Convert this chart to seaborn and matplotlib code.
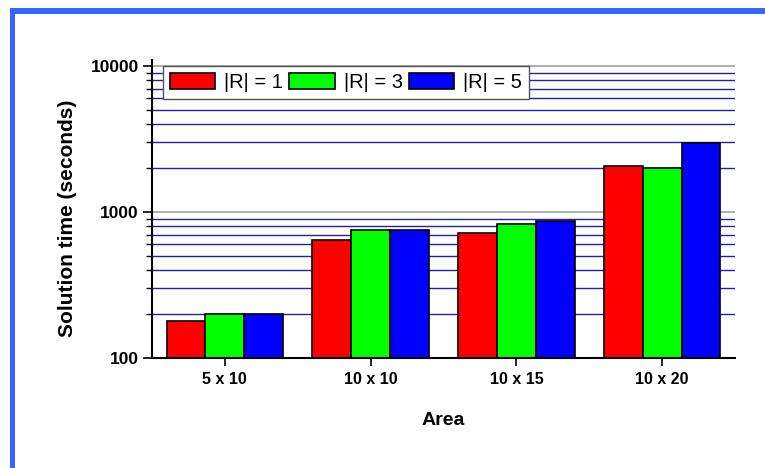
import matplotlib
matplotlib.use("Agg")
import matplotlib.pyplot as plt
from matplotlib.patches import Rectangle
from matplotlib.ticker import FixedLocator, FixedFormatter, LogLocator, NullFormatter
import seaborn as sns
import pandas as pd

# Solution times per area for three values of |R|
areas = ["5 x 10", "10 x 10", "10 x 15", "10 x 20"]
r_labels = ["|R| = 1", "|R| = 3", "|R| = 5"]
time_r1 = [179, 643, 718, 2080]
time_r3 = [200, 752, 823, 2010]
time_r5 = [200, 750, 863, 2980]
bar_colors = ["#ff0000", "#00ff00", "#0000ff"]
y_ticks = [100, 1000, 10000]
y_tick_labels = ["100", "1000", "10000"]

df = pd.DataFrame({
    "Area": areas * 3,
    "R": [r_labels[0]] * 4 + [r_labels[1]] * 4 + [r_labels[2]] * 4,
    "Time": time_r1 + time_r3 + time_r5,
})

sns.set_theme(style="white")
plt.rcParams["font.family"] = ["Liberation Sans", "DejaVu Sans"]
plt.rcParams.update({"text.color": "black", "axes.labelcolor": "black",
                     "xtick.color": "black", "ytick.color": "black"})

fig = plt.figure(figsize=(7.65, 4.68), dpi=100)
ax = fig.add_axes([152 / 765, 110 / 468, 583 / 765, 298 / 468])

sns.barplot(data=df, x="Area", y="Time", hue="R", order=areas, hue_order=r_labels,
            palette=bar_colors, saturation=1, width=0.8, gap=0,
            edgecolor="black", linewidth=1.2, errorbar=None, ax=ax)

ax.set_yscale("log")
ax.set_ylim(100, 11000)
ax.set_xlim(-0.5, 3.5)

ax.yaxis.set_major_locator(FixedLocator(y_ticks))
ax.yaxis.set_major_formatter(FixedFormatter(y_tick_labels))
ax.yaxis.set_minor_locator(LogLocator(base=10, subs=range(2, 10)))
ax.yaxis.set_minor_formatter(NullFormatter())

ax.set_axisbelow(True)
ax.grid(True, which="major", axis="y", color="#9a9a9a", linewidth=1.1)
ax.grid(True, which="minor", axis="y", color="#2020a8", linewidth=1.0)
ax.grid(False, axis="x")

for side in ["top", "right"]:
    ax.spines[side].set_visible(False)
for side in ["left", "bottom"]:
    ax.spines[side].set_color("black")
    ax.spines[side].set_linewidth(1.5)

ax.tick_params(axis="y", which="major", left=True, direction="out", length=6.5,
               width=1.2, pad=3, labelsize=12.5, color="black", labelcolor="black")
ax.tick_params(axis="y", which="minor", left=True, direction="out", length=4,
               width=1.0, color="black")
ax.tick_params(axis="x", bottom=True, direction="out", length=6, width=1.2,
               pad=4, labelsize=11.5, color="black", labelcolor="black")
for lbl in ax.get_xticklabels() + ax.get_yticklabels():
    lbl.set_fontweight("bold")

ax.set_xlabel("Area", fontsize=14, fontweight="bold", labelpad=18, color="black")
ax.set_ylabel("Solution time (seconds)", fontsize=15, fontweight="bold", color="black")
ax.yaxis.set_label_coords(-0.129, 0.468)

handles, labels = ax.get_legend_handles_labels()
leg = ax.legend(handles, labels, ncol=3, loc="upper left",
                bbox_to_anchor=(11 / 583, 292 / 298), borderaxespad=0,
                fontsize=14.5, frameon=True, fancybox=False, framealpha=1,
                edgecolor="#555555", handlelength=2.25, handleheight=0.85,
                handletextpad=0.45, columnspacing=0.3, borderpad=0.35)
leg.get_frame().set_linewidth(1.0)
for txt in leg.get_texts():
    txt.set_color("black")

# blue frame along the top and left edges of the figure
fig.add_artist(Rectangle((10 / 765, 0), 5 / 765, 460 / 468, transform=fig.transFigure,
                         facecolor="#3366ff", edgecolor="none"))
fig.add_artist(Rectangle((10 / 765, 454 / 468), 755 / 765, 6 / 468, transform=fig.transFigure,
                         facecolor="#3366ff", edgecolor="none"))

fig.savefig("out.png", dpi=100)
